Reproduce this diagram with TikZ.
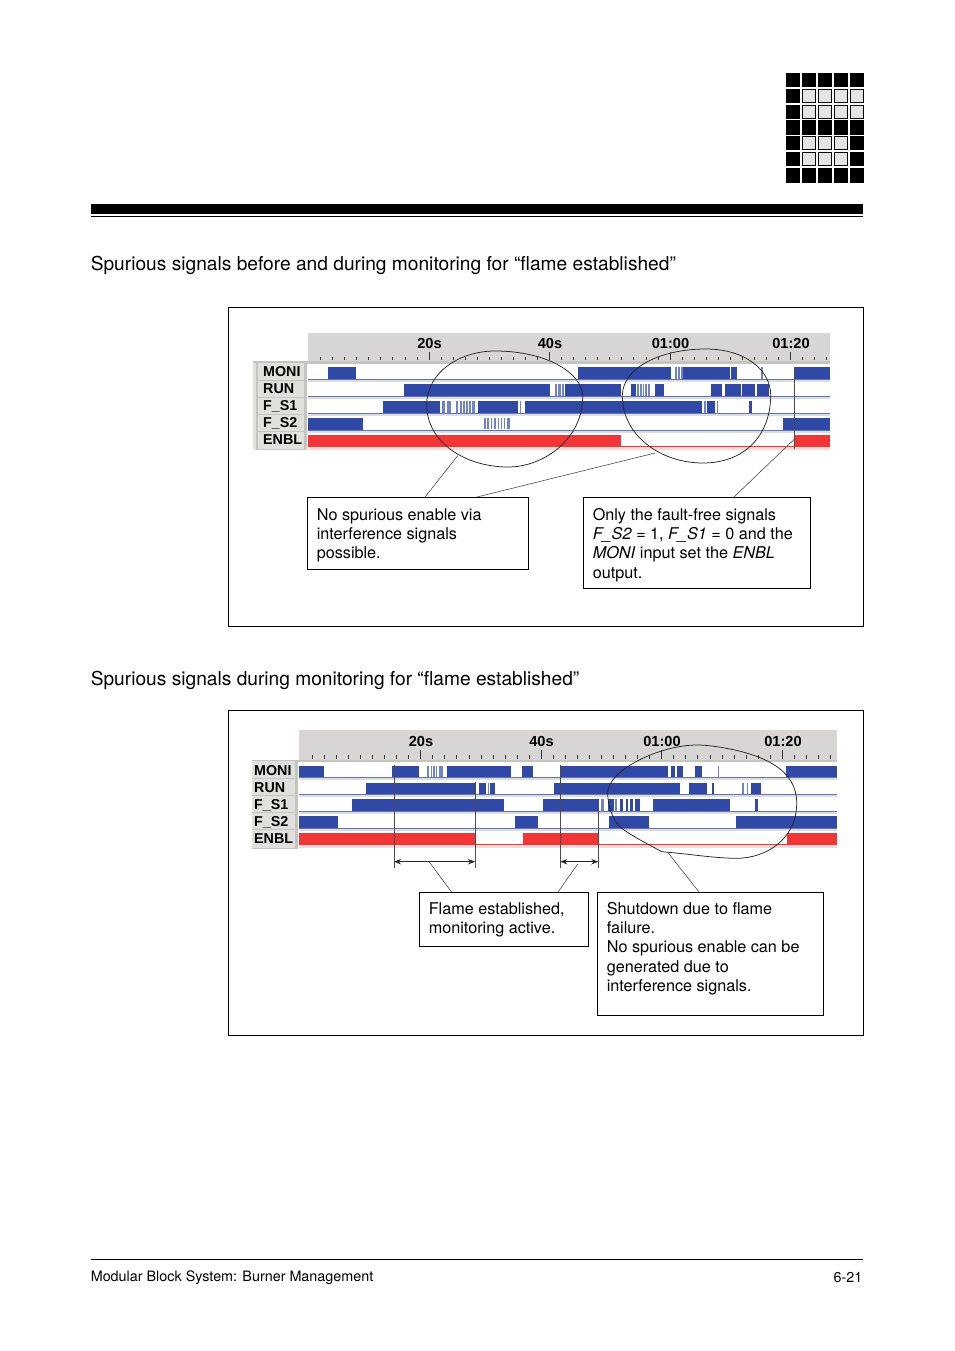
\documentclass[tikz,border=0pt]{standalone}
\usepackage{fontspec}
\setmainfont{TeX Gyre Heros}
\newfontfamily\chartfont{Liberation Sans}[BoldFont={Liberation Sans Bold}]
\usetikzlibrary{arrows.meta}
\definecolor{sigblue}{HTML}{3149A6}
\definecolor{baseblue}{HTML}{5F75C2}
\definecolor{thinblue}{HTML}{6F84C8}
\definecolor{sigred}{HTML}{F23537}
\definecolor{hdrgray}{HTML}{D7D6D4}
\definecolor{sepgray}{HTML}{C4C4C0}
\definecolor{lblgray}{HTML}{E0E0DC}
\definecolor{rowgray}{HTML}{DDDDDD}
\definecolor{pinkish}{HTML}{F4DAD8}
\definecolor{logofill}{HTML}{E4E4E4}
\tikzset{
  sigbar/.style={fill=sigblue},
  sigthin/.style={fill=thinblue},
  redbar/.style={fill=sigred},
  frameline/.style={draw=black,line width=0.8pt},
  leader/.style={draw=black!75,line width=0.55pt},
  loop/.style={draw=black!85,line width=0.75pt},
  marker/.style={draw=black!70,line width=0.9pt},
  span/.style={draw=black!85,line width=0.9pt,{Stealth[length=7pt,width=5.5pt]}-{Stealth[length=7pt,width=5.5pt]}},
  callout/.style={anchor=north west,draw=black,line width=0.8pt,inner xsep=9.4pt,inner ysep=0pt,font=\fontsize{16.2}{19.2}\selectfont},
  heading/.style={anchor=base west,inner sep=0pt,font=\fontsize{19.17}{22}\selectfont},
  footer/.style={inner sep=0pt,font=\fontsize{14.35}{17}\selectfont},
  chlabel/.style={anchor=base west,inner sep=0pt,font=\chartfont\bfseries\fontsize{14.3}{16}\selectfont},
  chtime/.style={anchor=base,inner sep=0pt,font=\chartfont\bfseries\fontsize{14.6}{16}\selectfont},
}
% row bars: top, bottom, list of from/to
\newcommand\sigrow[3]{\foreach \a/\b in {#3} \fill[sigbar] (\a,#1) rectangle (\b,#2);}
\newcommand\thinrow[3]{\foreach \a/\b in {#3} \fill[sigthin] (\a,#1) rectangle (\b,#2);}
\newcommand\callbody[4]{\parbox[c][#2pt][t]{#1pt}{\vspace*{#3pt}\raggedright #4}}
\newcommand\charticks[4]{%
  \foreach \i in {0,...,#4}{%
    \pgfmathsetmacro\tx{#1+12.05*\i}%
    \draw[black!80,line width=0.8pt] (\tx,#2) -- (\tx,#3);}}
\begin{document}
\begin{tikzpicture}[x=1pt,y=-1pt]
\useasboundingbox (0,0) rectangle (954,1351);
\fill[white] (0,0) rectangle (954,1351);

% logo
\foreach \y/\h in {73/14,120/14.7,167.7/15.3}{\foreach \c in {0,...,4}{\fill[black] (786+16*\c,\y) rectangle +(14,\h);}}
\foreach \y in {89,105,136,152}{\fill[black] (786,\y) rectangle +(14,14);}
\foreach \y in {136,152}{\fill[black] (850,\y) rectangle +(14,14);}
\foreach \y in {89,105}{\foreach \c in {1,2,3,4}{\fill[logofill,draw=black,line width=0.9pt] (786.5+16*\c,\y+.5) rectangle +(13,13);}}
\foreach \y in {136,152}{\foreach \c in {1,2,3}{\fill[logofill,draw=black,line width=0.9pt] (786.5+16*\c,\y+.5) rectangle +(13,13);}}

% header rule
\fill[black] (91,204) rectangle (863,214);
\fill[black] (91,216) rectangle (863,217);

\node[heading] (h1) at (90.6,270) {Spurious signals before and during monitoring for “flame established”};
\node[heading] (h2) at (90.6,685) {Spurious signals during monitoring for “flame established”};

% ================= frame 1
\draw[frameline] (228.5,307.5) rectangle (863.5,626.5);
\fill[hdrgray] (308,333) rectangle (830,361);
\fill[sepgray] (253,361) rectangle (830,363.5);
\charticks{320.55}{356.5}{360}{42}
\foreach \tx in {429,549.5,670,790.5}{\draw[black!80,line width=0.8pt] (\tx,351.5) -- (\tx,360);}
\node[chtime] (t11) at (429.5,348) {20s};
\node[chtime] (t12) at (550,348) {40s};
\node[chtime] (t13) at (670.5,348) {01:00};
\node[chtime] (t14) at (791,348) {01:20};
\fill[lblgray] (253,363) rectangle (307,450);
\fill[sepgray] (256,363) rectangle (258,450);
\fill[sepgray] (304,363) rectangle (307,450);
\foreach \y in {380,397,414,431,448.5}{\fill[sepgray] (256,\y) rectangle (307,\y+1.3);}
\node[chlabel] (l11) at (263,376.5) {MONI};
\node[chlabel] (l12) at (263,393.5) {RUN};
\node[chlabel] (l13) at (263,410.5) {F\_S1};
\node[chlabel] (l14) at (263,427.5) {F\_S2};
\node[chlabel] (l15) at (263,444.5) {ENBL};
\foreach \y in {378.5,395.5,412.5,429.5}{
  \fill[baseblue] (308,\y) rectangle (830,\y+1.5);
  \fill[rowgray] (308,\y+1.5) rectangle (830,\y+3);}
\fill[pinkish] (308,447) rectangle (830,449.5);
\sigrow{367}{379}{327.7/356.3,578/671,683/730,731/737,794/830}
\thinrow{367}{379}{674.7/676.5,678/679.5,680.5/682.5,761/763}
\sigrow{384}{396}{403.7/550,565/620.5,631/636,655/663.5,710.7/722,725/740.7,741.7/755,756.7/768.7}
\thinrow{384}{396}{554.5/556.5,557.5/560.5,561.5/564,636.7/638.5,639.5/642,642.8/644,645/647.3,648.3/650.3}
\sigrow{401}{413}{383/440,478/518,525/701.7,706.7/715,749.3/751.7}
\thinrow{401}{413}{442.3/445,447/450.7,455.5/458,460/461.5,462.5/465,466.3/467.5,469/470.7,472/475,520/521.3,703.5/705.5,716.5/717.8}
\sigrow{418}{430}{308/363,783/830}
\thinrow{418}{429}{484/485.5,487/489,491/492,494/495.5,497.5/499,500.5/502,503.5/505,507/508.5,509/510}
\fill[redbar] (308,435) rectangle (621,447);
\fill[redbar] (795,435) rectangle (830,447);
\fill[sigred] (621,446) rectangle (795,447);
\coordinate (m1top) at (794.5,367);
\coordinate (m1bot) at (794.5,449);
\draw[marker] (m1top) -- (m1bot);
\draw[loop] (426.7,405) .. controls (426.7,372) and (460,351) .. (495,351)
  .. controls (545,351) and (582.7,372) .. (582.7,397)
  .. controls (582.7,438) and (545,467) .. (508,467)
  .. controls (465,467) and (426.7,442) .. (426.7,405) -- cycle;
\draw[loop] (622.3,396) .. controls (622.3,368) and (660,349) .. (706,349)
  .. controls (745,349) and (770.7,370) .. (770.7,395)
  .. controls (770.7,435) and (745,463) .. (703,463)
  .. controls (660,463) and (622.3,435) .. (622.3,396) -- cycle;
\coordinate (e11) at (457.7,455.7);
\coordinate (e12) at (655,453);
\coordinate (e13) at (794.5,439);
\node[callout] (b11) at (307,497) {\callbody{202}{72}{11}{No spurious enable via\\interference signals\\possible.}};
\node[callout] (b12) at (583,497) {\callbody{208.5}{91}{11}{Only the fault-free signals\\\textit{F\_S2} = 1, \textit{F\_S1} = 0 and the\\\textit{MONI} input set the \textit{ENBL}\\output.}};
\draw[leader] (e11) -- ([xshift=118pt]b11.north west);
\draw[leader] (e12) -- ([xshift=170pt]b11.north west);
\draw[leader] (e13) -- ([xshift=151pt]b12.north west);

% ================= frame 2
\draw[frameline] (228.5,710.5) rectangle (863.5,1035.5);
\fill[hdrgray] (299.3,730) rectangle (837,760);
\fill[sepgray] (252,759.5) rectangle (837,761.5);
\charticks{312.25}{754.5}{758.5}{43}
\foreach \tx in {420.7,541,661.7,782.7}{\draw[black!80,line width=0.8pt] (\tx,750) -- (\tx,758.5);}
\node[chtime] (t21) at (421,746) {20s};
\node[chtime] (t22) at (541.5,746) {40s};
\node[chtime] (t23) at (662,746) {01:00};
\node[chtime] (t24) at (783,746) {01:20};
\fill[lblgray] (252,761) rectangle (298,849);
\fill[sepgray] (295,761) rectangle (298,849);
\foreach \y in {778,795,812,829,847.5}{\fill[sepgray] (252,\y) rectangle (298,\y+1.3);}
\node[chlabel] (l21) at (254,775) {MONI};
\node[chlabel] (l22) at (254,792) {RUN};
\node[chlabel] (l23) at (254,809) {F\_S1};
\node[chlabel] (l24) at (254,826) {F\_S2};
\node[chlabel] (l25) at (254,843) {ENBL};
\foreach \y in {776.5,793.5,810.5,827.5}{
  \fill[baseblue] (299.3,\y) rectangle (837,\y+1.5);
  \fill[rowgray] (299.3,\y+1.5) rectangle (837,\y+3);}
\fill[pinkish] (299.3,845) rectangle (837,848);
\sigrow{765.7}{777}{299.3/323.7,392.3/418.7,447/510.7,521.7/533.3,560/668.3,671/675,677/683,695.3/702.3,785.7/836.7}
\thinrow{765.7}{777}{427.3/429.3,430.5/431.5,433/435,436/437,438.5/443,718/719.3}
\sigrow{782.7}{794}{366/475,479.3/486,490.3/494.7,554/680.3,689.3/707,712/714.3,750.7/761.3}
\thinrow{782.7}{794}{487.7/489.3,742/744,746.7/747.7}
\sigrow{799}{811}{351.7/504.3,543.3/598.7,608.3/614,620.3/623,626/628.3,630.3/633,635/639.7,653/730,755.3/758}
\thinrow{799}{811}{601/604,615/616.7}
\sigrow{816}{828}{299.3/338,515.3/538.3,609.3/649.3,736.3/836.7}
\fill[redbar] (299.3,833) rectangle (475,845);
\fill[redbar] (522.7,833) rectangle (598.3,845);
\fill[redbar] (786.7,833) rectangle (837,845);
\fill[sigred] (475,844) rectangle (522.7,845);
\fill[sigred] (598.3,844) rectangle (786.7,845);
\coordinate (s1t) at (394,765); \coordinate (s1b) at (394,868);
\coordinate (s2t) at (475,782); \coordinate (s2b) at (475,868);
\coordinate (s3t) at (560.3,765); \coordinate (s3b) at (560.3,868);
\coordinate (s4t) at (598.3,799); \coordinate (s4b) at (598.3,868);
\draw[marker] (s1t) -- (s1b);
\draw[marker] (s2t) -- (s2b);
\draw[marker] (s3t) -- (s3b);
\draw[marker] (s4t) -- (s4b);
\coordinate (a1l) at (394,861.7); \coordinate (a1r) at (475,861.7);
\coordinate (a2l) at (560.3,861.7); \coordinate (a2r) at (598.3,861.7);
\draw[span] (a1l) -- (a1r);
\draw[span] (a2l) -- (a2r);
\coordinate (e23) at (668.3,853);
\draw[loop] (661.7,851.7) .. controls (690,854) and (715,858.3) .. (736.7,858.3)
  .. controls (765,858.3) and (796.7,840) .. (796.7,803)
  .. controls (796.7,770) and (765,757) .. (735,750)
  .. controls (720,747) and (708,745) .. (697,745)
  .. controls (660,745) and (607.7,770) .. (607.7,793)
  .. controls (607.7,805) and (612,820) .. (621.7,828.3)
  .. controls (635,838) and (650,845) .. (661.7,851.7) -- cycle;
\coordinate (e21) at (429.3,862);
\coordinate (e22) at (577.7,864);
\node[callout] (b21) at (419,892) {\callbody{150.5}{54}{10}{Flame established,\\monitoring active.}};
\node[callout] (b22) at (597,892) {\callbody{207.5}{123}{10}{Shutdown due to flame\\failure.\\No spurious enable can be\\generated due to\\interference signals.}};
\draw[leader] (e21) -- ([xshift=32.5pt]b21.north west);
\draw[leader] (e22) -- ([xshift=139pt]b21.north west);
\draw[leader] (e23) -- ([xshift=102pt]b22.north west);

% footer
\fill[black] (91,1259) rectangle (863,1260);
\node[footer,anchor=base west] (f1) at (90.6,1281) {Modular Block System: Burner Management};
\node[footer,anchor=base east] (f2) at (862.5,1282) {6-21};
\end{tikzpicture}
\end{document}
